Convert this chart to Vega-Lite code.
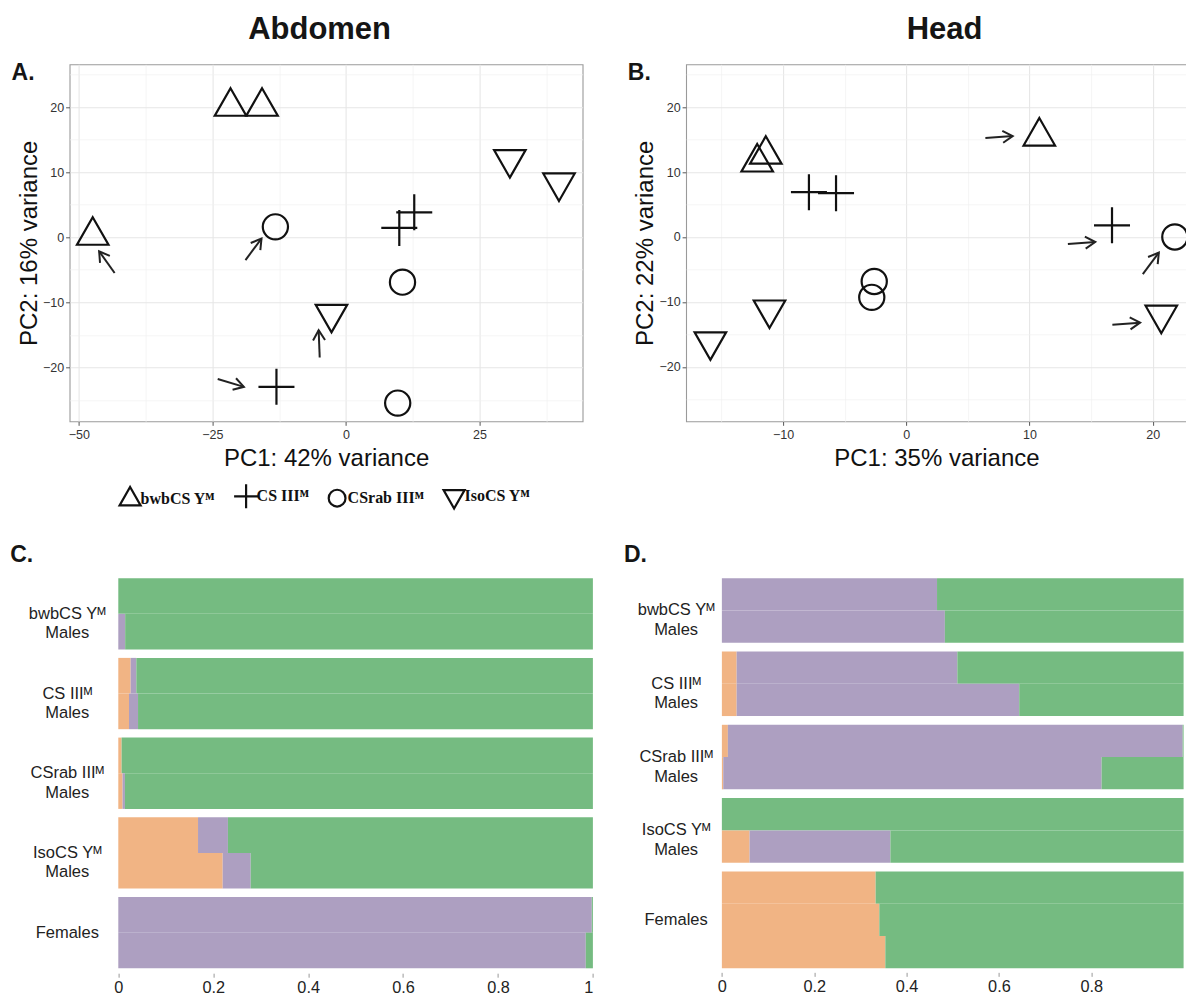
{
  "$schema": "https://vega.github.io/schema/vega-lite/v6.json",
  "padding": {"left": 9.6, "top": 14.3, "right": 0, "bottom": 0},
  "background": "white",
  "config": {
    "font": "Liberation Sans",
    "title": {"font": "Liberation Sans", "color": "#151515"},
    "axis": {"labelFont": "Liberation Sans", "titleFont": "Liberation Sans"},
    "legend": {"labelFont": "Liberation Serif"}
  },
  "datasets": {
    "pcaA": [
      {"strain": "bwbCS Yᴹ", "pc1": -21.6, "pc2": 20.1},
      {"strain": "bwbCS Yᴹ", "pc1": -15.7, "pc2": 20.1},
      {"strain": "bwbCS Yᴹ", "pc1": -47.4, "pc2": 0.26},
      {"strain": "CS IIIᴹ", "pc1": -13.0, "pc2": -23.0},
      {"strain": "CS IIIᴹ", "pc1": 10.0, "pc2": 1.43},
      {"strain": "CS IIIᴹ", "pc1": 12.8, "pc2": 3.84},
      {"strain": "CSrab IIIᴹ", "pc1": -13.2, "pc2": 1.6},
      {"strain": "CSrab IIIᴹ", "pc1": 10.6, "pc2": -6.9},
      {"strain": "CSrab IIIᴹ", "pc1": 9.7, "pc2": -25.5},
      {"strain": "IsoCS Yᴹ", "pc1": 30.7, "pc2": 12.0},
      {"strain": "IsoCS Yᴹ", "pc1": 39.9, "pc2": 8.4},
      {"strain": "IsoCS Yᴹ", "pc1": -2.7, "pc2": -11.8}
    ],
    "arrowsA": [
      {"x_start": -43.3, "y_start": -5.5, "x_end": -46.2, "y_end": -2.15},
      {"x_start": -18.8, "y_start": -3.5, "x_end": -15.8, "y_end": -0.2},
      {"x_start": -4.9, "y_start": -18.5, "x_end": -5.1, "y_end": -14.3},
      {"x_start": -24.0, "y_start": -21.8, "x_end": -19.1, "y_end": -23.0}
    ],
    "pcaB": [
      {"strain": "bwbCS Yᴹ", "pc1": 10.8, "pc2": 15.5},
      {"strain": "bwbCS Yᴹ", "pc1": -11.4, "pc2": 12.7},
      {"strain": "bwbCS Yᴹ", "pc1": -12.1, "pc2": 11.5},
      {"strain": "CS IIIᴹ", "pc1": -7.9, "pc2": 6.9},
      {"strain": "CS IIIᴹ", "pc1": -5.7, "pc2": 6.75},
      {"strain": "CS IIIᴹ", "pc1": 16.7, "pc2": 1.8},
      {"strain": "CSrab IIIᴹ", "pc1": -2.6, "pc2": -6.85},
      {"strain": "CSrab IIIᴹ", "pc1": -2.8, "pc2": -9.3},
      {"strain": "CSrab IIIᴹ", "pc1": 21.8, "pc2": 0.0},
      {"strain": "IsoCS Yᴹ", "pc1": -11.1, "pc2": -11.2},
      {"strain": "IsoCS Yᴹ", "pc1": -15.9, "pc2": -16.1},
      {"strain": "IsoCS Yᴹ", "pc1": 20.7, "pc2": -12.0}
    ],
    "arrowsB": [
      {"x_start": 6.42, "y_start": 15.24, "x_end": 8.64, "y_end": 15.55},
      {"x_start": 13.12, "y_start": -1.07, "x_end": 15.34, "y_end": -0.77},
      {"x_start": 19.2, "y_start": -5.73, "x_end": 20.5, "y_end": -2.4},
      {"x_start": 16.73, "y_start": -13.5, "x_end": 18.98, "y_end": -13.2}
    ],
    "admixC": [
      {"group": "bwbCS Yᴹ|Males", "sample": "a", "cluster": "K3", "p": 1.0},
      {"group": "bwbCS Yᴹ|Males", "sample": "b", "cluster": "K2", "p": 0.0145},
      {"group": "bwbCS Yᴹ|Males", "sample": "b", "cluster": "K3", "p": 0.9855},
      {"group": "CS IIIᴹ|Males", "sample": "a", "cluster": "K1", "p": 0.026},
      {"group": "CS IIIᴹ|Males", "sample": "a", "cluster": "K2", "p": 0.012},
      {"group": "CS IIIᴹ|Males", "sample": "a", "cluster": "K3", "p": 0.962},
      {"group": "CS IIIᴹ|Males", "sample": "b", "cluster": "K1", "p": 0.0226},
      {"group": "CS IIIᴹ|Males", "sample": "b", "cluster": "K2", "p": 0.019},
      {"group": "CS IIIᴹ|Males", "sample": "b", "cluster": "K3", "p": 0.9584},
      {"group": "CSrab IIIᴹ|Males", "sample": "a", "cluster": "K1", "p": 0.007},
      {"group": "CSrab IIIᴹ|Males", "sample": "a", "cluster": "K3", "p": 0.993},
      {"group": "CSrab IIIᴹ|Males", "sample": "b", "cluster": "K1", "p": 0.009},
      {"group": "CSrab IIIᴹ|Males", "sample": "b", "cluster": "K2", "p": 0.005},
      {"group": "CSrab IIIᴹ|Males", "sample": "b", "cluster": "K3", "p": 0.986},
      {"group": "IsoCS Yᴹ|Males", "sample": "a", "cluster": "K1", "p": 0.168},
      {"group": "IsoCS Yᴹ|Males", "sample": "a", "cluster": "K2", "p": 0.063},
      {"group": "IsoCS Yᴹ|Males", "sample": "a", "cluster": "K3", "p": 0.769},
      {"group": "IsoCS Yᴹ|Males", "sample": "b", "cluster": "K1", "p": 0.22},
      {"group": "IsoCS Yᴹ|Males", "sample": "b", "cluster": "K2", "p": 0.059},
      {"group": "IsoCS Yᴹ|Males", "sample": "b", "cluster": "K3", "p": 0.721},
      {"group": "Females", "sample": "a", "cluster": "K2", "p": 0.9976},
      {"group": "Females", "sample": "a", "cluster": "K3", "p": 0.0024},
      {"group": "Females", "sample": "b", "cluster": "K2", "p": 0.985},
      {"group": "Females", "sample": "b", "cluster": "K3", "p": 0.015}
    ],
    "admixD": [
      {"group": "bwbCS Yᴹ|Males", "sample": "a", "cluster": "K2", "p": 0.466},
      {"group": "bwbCS Yᴹ|Males", "sample": "a", "cluster": "K3", "p": 0.534},
      {"group": "bwbCS Yᴹ|Males", "sample": "b", "cluster": "K2", "p": 0.483},
      {"group": "bwbCS Yᴹ|Males", "sample": "b", "cluster": "K3", "p": 0.517},
      {"group": "CS IIIᴹ|Males", "sample": "a", "cluster": "K1", "p": 0.032},
      {"group": "CS IIIᴹ|Males", "sample": "a", "cluster": "K2", "p": 0.478},
      {"group": "CS IIIᴹ|Males", "sample": "a", "cluster": "K3", "p": 0.49},
      {"group": "CS IIIᴹ|Males", "sample": "b", "cluster": "K1", "p": 0.032},
      {"group": "CS IIIᴹ|Males", "sample": "b", "cluster": "K2", "p": 0.612},
      {"group": "CS IIIᴹ|Males", "sample": "b", "cluster": "K3", "p": 0.356},
      {"group": "CSrab IIIᴹ|Males", "sample": "a", "cluster": "K1", "p": 0.013},
      {"group": "CSrab IIIᴹ|Males", "sample": "a", "cluster": "K2", "p": 0.985},
      {"group": "CSrab IIIᴹ|Males", "sample": "a", "cluster": "K3", "p": 0.002},
      {"group": "CSrab IIIᴹ|Males", "sample": "b", "cluster": "K1", "p": 0.003},
      {"group": "CSrab IIIᴹ|Males", "sample": "b", "cluster": "K2", "p": 0.8195},
      {"group": "CSrab IIIᴹ|Males", "sample": "b", "cluster": "K3", "p": 0.1775},
      {"group": "IsoCS Yᴹ|Males", "sample": "a", "cluster": "K3", "p": 1.0},
      {"group": "IsoCS Yᴹ|Males", "sample": "b", "cluster": "K1", "p": 0.06},
      {"group": "IsoCS Yᴹ|Males", "sample": "b", "cluster": "K2", "p": 0.305},
      {"group": "IsoCS Yᴹ|Males", "sample": "b", "cluster": "K3", "p": 0.635},
      {"group": "Females", "sample": "a", "cluster": "K1", "p": 0.333},
      {"group": "Females", "sample": "a", "cluster": "K3", "p": 0.667},
      {"group": "Females", "sample": "b", "cluster": "K1", "p": 0.341},
      {"group": "Females", "sample": "b", "cluster": "K3", "p": 0.659},
      {"group": "Females", "sample": "c", "cluster": "K1", "p": 0.354},
      {"group": "Females", "sample": "c", "cluster": "K3", "p": 0.646}
    ]
  },
  "spacing": 71.9,
  "vconcat": [
    {
      "spacing": 43.5,
      "hconcat": [
        {
          "title": {"text": "Abdomen", "fontSize": 31, "fontWeight": "bold", "anchor": "middle", "baseline": "alphabetic", "offset": -9, "dx": 22.5},
          "vconcat": [
            {
              "title": {"text": "A.", "anchor": "start", "frame": "group", "baseline": "alphabetic", "offset": -38.6, "dx": -58, "fontSize": 23, "fontWeight": "bold"},
              "width": 513,
              "height": 357,
              "view": {"stroke": "#9a9a9a", "strokeWidth": 1.1},
              "resolve": {"axis": {"y": "independent"}},
              "layer": [
                {
                  "data": {"name": "pcaA"},
                  "mark": {"type": "point", "filled": false, "size": 1296, "strokeWidth": 2.2, "color": "#111", "opacity": 1},
                  "encoding": {
                    "x": {"field": "pc1", "type": "quantitative", "scale": {"domain": [-51.73, 44.32], "nice": false, "zero": false},
                      "axis": {"title": "PC1: 42% variance", "values": [-50, -37.5, -25, -12.5, 0, 12.5, 25, 37.5], "format": ".0f", "labelOverlap": false,
                        "labelExpr": "datum.value % 25 === 0 ? datum.label : ''",
                        "gridColor": {"condition": {"test": "datum.value % 25 === 0", "value": "#e6e6e6"}, "value": "#f1f1f1"},
                        "gridWidth": {"condition": {"test": "datum.value % 25 === 0", "value": 1.1}, "value": 0.7},
                        "tickColor": {"condition": {"test": "datum.value % 25 === 0", "value": "#555"}, "value": "transparent"},
                        "domain": false, "tickSize": 4, "labelPadding": 3, "labelFontSize": 12.5, "labelColor": "#333",
                        "titleFontSize": 24, "titleFontWeight": "normal", "titleColor": "#111", "titlePadding": 6}},
                    "y": {"field": "pc2", "type": "quantitative", "scale": {"domain": [-28.3, 26.6], "nice": false, "zero": false},
                      "axis": {"title": "PC2: 16% variance", "values": [-20, -10, 0, 10, 20], "format": ".0f",
                        "gridColor": "#e6e6e6", "gridWidth": 1.1, "tickColor": "#555",
                        "domain": false, "tickSize": 4, "labelPadding": 2, "labelFontSize": 12.5, "labelColor": "#333",
                        "titleFontSize": 24, "titleFontWeight": "normal", "titleColor": "#111", "titlePadding": 1}},
                    "shape": {"field": "strain", "type": "nominal",
                      "scale": {"domain": ["bwbCS Yᴹ", "CS IIIᴹ", "CSrab IIIᴹ", "IsoCS Yᴹ"],
                        "range": ["M0,-1.02L0.875,0.51L-0.875,0.51Z", "M-1,0L1,0M0,-1L0,1", "M0.7,0A0.7,0.7,0,1,1,-0.7,0A0.7,0.7,0,1,1,0.7,0Z", "M0,1.02L0.875,-0.51L-0.875,-0.51Z"]},
                      "legend": {"orient": "none", "legendX": 47, "legendY": 418, "direction": "horizontal", "columns": 4, "title": null,
                        "symbolSize": 576, "symbolStrokeWidth": 2.2, "symbolStrokeColor": "#111", "symbolFillColor": "transparent",
                        "labelFont": "Liberation Serif", "labelFontWeight": "bold", "labelFontSize": 16, "labelColor": "#111",
                        "labelOffset": -3, "columnPadding": 14}}
                  }
                },
                {
                  "data": {"name": "arrowsA"},
                  "mark": {"type": "rule", "strokeWidth": 2, "color": "#222"},
                  "encoding": {
                    "x": {"field": "x_start", "type": "quantitative"},
                    "y": {"field": "y_start", "type": "quantitative",
                      "axis": {"orient": "right", "values": [-25, -15, -5, 5, 15, 25], "grid": true, "gridColor": "#f1f1f1", "gridWidth": 0.7,
                        "labels": false, "ticks": false, "domain": false, "title": null, "minExtent": 0, "maxExtent": 0}},
                    "x2": {"field": "x_end"},
                    "y2": {"field": "y_end"}
                  }
                },
                {
                  "data": {"name": "arrowsA"},
                  "transform": [{"calculate": "atan2(-(datum.y_end - datum.y_start) * 6.508, (datum.x_end - datum.x_start) * 5.341) * 180 / PI", "as": "ang"}],
                  "mark": {"type": "point", "shape": "M-1,-0.6L0,0L-1,0.6", "filled": false, "size": 400, "strokeWidth": 2, "color": "#222", "opacity": 1},
                  "encoding": {
                    "x": {"field": "x_end", "type": "quantitative"},
                    "y": {"field": "y_end", "type": "quantitative", "axis": null},
                    "angle": {"field": "ang", "type": "quantitative", "scale": null}
                  }
                }
              ]
            }
          ]
        },
        {
          "title": {"text": "Head", "fontSize": 31, "fontWeight": "bold", "anchor": "middle", "baseline": "alphabetic", "offset": -9, "dx": 34.7},
          "vconcat": [
            {
              "title": {"text": "B.", "anchor": "start", "frame": "group", "baseline": "alphabetic", "offset": -38.6, "dx": -58.3, "fontSize": 23, "fontWeight": "bold"},
              "width": 500.7,
              "height": 357,
              "view": {"stroke": "#9a9a9a", "strokeWidth": 1.1},
              "resolve": {"axis": {"y": "independent"}},
              "layer": [
                {
                  "data": {"name": "pcaB"},
                  "mark": {"type": "point", "filled": false, "size": 1296, "strokeWidth": 2.2, "color": "#111", "opacity": 1},
                  "encoding": {
                    "x": {"field": "pc1", "type": "quantitative", "scale": {"domain": [-17.87, 22.77], "nice": false, "zero": false},
                      "axis": {"title": "PC1: 35% variance", "values": [-15, -10, -5, 0, 5, 10, 15, 20], "format": ".0f", "labelOverlap": false,
                        "labelExpr": "datum.value % 10 === 0 ? datum.label : ''",
                        "gridColor": {"condition": {"test": "datum.value % 10 === 0", "value": "#e6e6e6"}, "value": "#f1f1f1"},
                        "gridWidth": {"condition": {"test": "datum.value % 10 === 0", "value": 1.1}, "value": 0.7},
                        "tickColor": {"condition": {"test": "datum.value % 10 === 0", "value": "#555"}, "value": "transparent"},
                        "domain": false, "tickSize": 4, "labelPadding": 3, "labelFontSize": 12.5, "labelColor": "#333",
                        "titleFontSize": 24, "titleFontWeight": "normal", "titleColor": "#111", "titlePadding": 6}},
                    "y": {"field": "pc2", "type": "quantitative", "scale": {"domain": [-28.39, 26.6], "nice": false, "zero": false},
                      "axis": {"title": "PC2: 22% variance", "values": [-20, -10, 0, 10, 20], "format": ".0f",
                        "gridColor": "#e6e6e6", "gridWidth": 1.1, "tickColor": "#555",
                        "domain": false, "tickSize": 4, "labelPadding": 2, "labelFontSize": 12.5, "labelColor": "#333",
                        "titleFontSize": 24, "titleFontWeight": "normal", "titleColor": "#111", "titlePadding": 1}},
                    "shape": {"field": "strain", "type": "nominal",
                      "scale": {"domain": ["bwbCS Yᴹ", "CS IIIᴹ", "CSrab IIIᴹ", "IsoCS Yᴹ"],
                        "range": ["M0,-1.02L0.875,0.51L-0.875,0.51Z", "M-1,0L1,0M0,-1L0,1", "M0.7,0A0.7,0.7,0,1,1,-0.7,0A0.7,0.7,0,1,1,0.7,0Z", "M0,1.02L0.875,-0.51L-0.875,-0.51Z"]},
                      "legend": {"orient": "none", "legendX": 48, "legendY": 418, "direction": "horizontal", "columns": 4, "title": null,
                        "symbolSize": 576, "symbolStrokeWidth": 2.2, "symbolStrokeColor": "#111", "symbolFillColor": "transparent",
                        "labelFont": "Liberation Serif", "labelFontWeight": "bold", "labelFontSize": 16, "labelColor": "#111",
                        "labelOffset": -3, "columnPadding": 14}}
                  }
                },
                {
                  "data": {"name": "arrowsB"},
                  "mark": {"type": "rule", "strokeWidth": 2, "color": "#222"},
                  "encoding": {
                    "x": {"field": "x_start", "type": "quantitative"},
                    "y": {"field": "y_start", "type": "quantitative",
                      "axis": {"orient": "right", "values": [-25, -15, -5, 5, 15, 25], "grid": true, "gridColor": "#f1f1f1", "gridWidth": 0.7,
                        "labels": false, "ticks": false, "domain": false, "title": null, "minExtent": 0, "maxExtent": 0}},
                    "x2": {"field": "x_end"},
                    "y2": {"field": "y_end"}
                  }
                },
                {
                  "data": {"name": "arrowsB"},
                  "transform": [{"calculate": "atan2(-(datum.y_end - datum.y_start) * 6.497, (datum.x_end - datum.x_start) * 12.32) * 180 / PI", "as": "ang"}],
                  "mark": {"type": "point", "shape": "M-1,-0.6L0,0L-1,0.6", "filled": false, "size": 400, "strokeWidth": 2, "color": "#222", "opacity": 1},
                  "encoding": {
                    "x": {"field": "x_end", "type": "quantitative"},
                    "y": {"field": "y_end", "type": "quantitative", "axis": null},
                    "angle": {"field": "ang", "type": "quantitative", "scale": null}
                  }
                }
              ]
            }
          ]
        }
      ]
    },
    {
      "spacing": 30,
      "hconcat": [
        {
          "title": {"text": "C.", "anchor": "start", "frame": "group", "baseline": "alphabetic", "offset": -7.3, "dx": -59.4, "fontSize": 23, "fontWeight": "bold"},
          "data": {"name": "admixC"},
          "facet": {"row": {"field": "group", "type": "nominal", "title": null,
            "sort": ["bwbCS Yᴹ|Males", "CS IIIᴹ|Males", "CSrab IIIᴹ|Males", "IsoCS Yᴹ|Males", "Females"],
            "header": {"labels": false}}},
          "spacing": {"row": 7.7},
          "resolve": {"scale": {"y": "independent"}},
          "spec": {
            "width": 523.3,
            "height": {"step": 35.65},
            "view": {"stroke": null},
            "layer": [
              {
                "mark": {"type": "bar"},
                "encoding": {
                  "y": {"field": "sample", "type": "nominal", "axis": null, "scale": {"paddingInner": 0, "paddingOuter": 0}},
                  "x": {"field": "p", "type": "quantitative", "stack": "zero", "scale": {"domain": [-0.1026, 1], "nice": false, "zero": false},
                    "axis": {"title": null, "values": [0, 0.2, 0.4, 0.6, 0.8, 1], "format": ".1~f", "domain": false, "grid": false,
                      "tickColor": "#999", "tickSize": 4, "offset": 4, "labelFontSize": 16.3, "labelColor": "#222", "labelPadding": 2}},
                  "color": {"field": "cluster", "type": "nominal", "legend": null,
                    "scale": {"domain": ["K1", "K2", "K3"], "range": ["#F1B484", "#AD9FC1", "#75BB81"]}},
                  "order": {"field": "cluster", "type": "nominal", "sort": "ascending"}
                }
              },
              {
                "transform": [{"filter": "datum.sample === 'b'"}, {"aggregate": [{"op": "count", "as": "n"}], "groupby": ["group", "sample"]}],
                "mark": {"type": "text", "lineBreak": "|", "align": "center", "baseline": "middle", "fontSize": 16.5, "font": "Liberation Sans", "color": "#222", "lineHeight": 19.5},
                "encoding": {
                  "x": {"datum": -0.1075},
                  "y": {"field": "sample", "type": "nominal", "bandPosition": 0},
                  "text": {"field": "group", "type": "nominal"}
                }
              }
            ]
          }
        },
        {
          "spacing": 8.3,
          "vconcat": [
            {
              "title": {"text": "D.", "anchor": "start", "frame": "group", "baseline": "alphabetic", "offset": -7.3, "dx": -59.7, "fontSize": 23, "fontWeight": "bold"},
              "data": {"name": "admixD"},
              "transform": [{"filter": "datum.group !== 'Females'"}],
              "facet": {"row": {"field": "group", "type": "nominal", "title": null,
                "sort": ["bwbCS Yᴹ|Males", "CS IIIᴹ|Males", "CSrab IIIᴹ|Males", "IsoCS Yᴹ|Males"],
                "header": {"labels": false}}},
              "spacing": {"row": 8.3},
              "resolve": {"scale": {"y": "independent"}},
              "spec": {
                "width": 500,
                "height": {"step": 32.28},
                "view": {"stroke": null},
                "layer": [
                  {
                    "mark": {"type": "bar"},
                    "encoding": {
                      "y": {"field": "sample", "type": "nominal", "axis": null, "scale": {"paddingInner": 0, "paddingOuter": 0}},
                      "x": {"field": "p", "type": "quantitative", "stack": "zero", "scale": {"domain": [-0.0829, 1.0], "nice": false, "zero": false}, "axis": null},
                      "color": {"field": "cluster", "type": "nominal", "legend": null,
                        "scale": {"domain": ["K1", "K2", "K3"], "range": ["#F1B484", "#AD9FC1", "#75BB81"]}},
                      "order": {"field": "cluster", "type": "nominal", "sort": "ascending"}
                    }
                  },
                  {
                    "transform": [{"filter": "datum.sample === 'b'"}, {"aggregate": [{"op": "count", "as": "n"}], "groupby": ["group", "sample"]}],
                    "mark": {"type": "text", "lineBreak": "|", "align": "center", "baseline": "middle", "fontSize": 16.5, "font": "Liberation Sans", "color": "#222", "lineHeight": 19.5},
                    "encoding": {
                      "x": {"datum": -0.0991},
                      "y": {"field": "sample", "type": "nominal", "bandPosition": 0},
                      "text": {"field": "group", "type": "nominal"}
                    }
                  }
                ]
              }
            },
            {
              "data": {"name": "admixD"},
              "transform": [{"filter": "datum.group === 'Females'"}],
              "width": 500,
              "height": {"step": 32.28},
              "view": {"stroke": null},
              "layer": [
                {
                  "mark": {"type": "bar"},
                  "encoding": {
                    "y": {"field": "sample", "type": "nominal", "axis": null, "scale": {"paddingInner": 0, "paddingOuter": 0}},
                    "x": {"field": "p", "type": "quantitative", "stack": "zero", "scale": {"domain": [-0.0829, 1.0], "nice": false, "zero": false},
                      "axis": {"title": null, "values": [0, 0.2, 0.4, 0.6, 0.8], "format": ".1~f", "domain": false, "grid": false,
                        "tickColor": "#999", "tickSize": 4, "offset": 4, "labelFontSize": 16.3, "labelColor": "#222", "labelPadding": 2}},
                    "color": {"field": "cluster", "type": "nominal", "legend": null,
                      "scale": {"domain": ["K1", "K2", "K3"], "range": ["#F1B484", "#AD9FC1", "#75BB81"]}},
                    "order": {"field": "cluster", "type": "nominal", "sort": "ascending"}
                  }
                },
                {
                  "transform": [{"filter": "datum.sample === 'b'"}, {"aggregate": [{"op": "count", "as": "n"}], "groupby": ["group", "sample"]}],
                  "mark": {"type": "text", "align": "center", "baseline": "middle", "fontSize": 16.5, "font": "Liberation Sans", "color": "#222"},
                  "encoding": {
                    "x": {"datum": -0.0991},
                    "y": {"field": "sample", "type": "nominal", "bandPosition": 0.5},
                    "text": {"field": "group", "type": "nominal"}
                  }
                }
              ]
            }
          ]
        }
      ]
    }
  ]
}
